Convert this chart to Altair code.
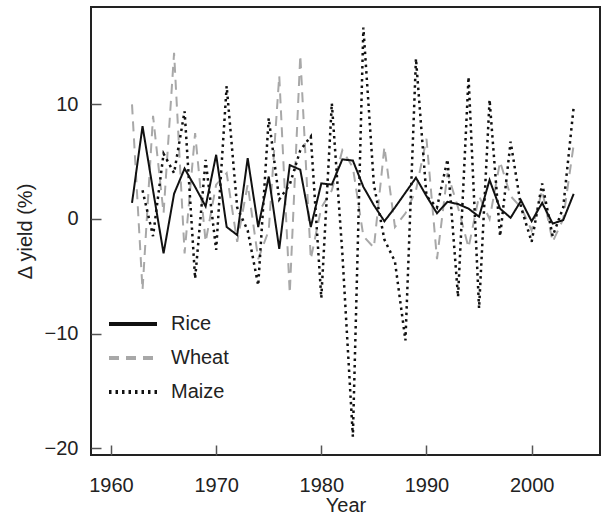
import altair as alt
import pandas as pd

years = list(range(1962, 2005))
rice = [1.4, 8.1, 2.5, -3.0, 2.2, 4.4, 2.8, 1.1, 5.6, -0.7, -1.4, 5.3, -0.7, 3.7, -2.6,
        4.7, 4.3, -0.7, 3.1, 3.0, 5.2, 5.1, 2.8, 1.2, -0.2, 1.0, 2.3, 3.6, 2.0, 0.5,
        1.5, 1.3, 0.9, 0.2, 3.4, 0.9, 0.1, 1.6, -0.2, 1.4, -0.4, -0.1, 2.2]
wheat = [10.0, -6.2, 9.0, 0.5, 14.5, -3.0, 7.5, -2.0, 3.0, 4.0, -2.0, 3.0, -3.5, -1.0, 12.5,
         -6.5, 14.3, -3.5, 1.0, 2.5, 6.0, 4.5, -1.5, -2.5, 6.3, -0.7, 0.5, 2.5, 7.0, -3.5,
         4.0, 1.0, -2.5, 2.0, 0.0, 5.0, 2.0, 1.0, -1.0, 2.5, -2.0, 0.0, 6.5]
maize = [None, 2.5, -1.5, 5.7, 4.0, 9.4, -5.2, 5.15, -2.7, 11.6, 1.0, -1.0, -5.8, 8.8, 1.7,
         3.0, 6.0, 7.2, -6.9, 10.1, -3.0, -19.0, 16.7, 3.0, -1.8, -3.7, -10.6, 14.0, 2.0, 1.0,
         5.2, -6.8, 12.4, -7.8, 10.4, -1.5, 6.75, 1.0, -2.0, 3.1, -1.5, 1.0, 9.8]

crops = ["Rice", "Wheat", "Maize"]
series = {"Rice": rice, "Wheat": wheat, "Maize": maize}
colors = ["#111111", "#a8a8a8", "#111111"]
dashes = [[1, 0], [10, 7], [2.5, 4]]
x_ticks = [1960, 1970, 1980, 1990, 2000]
y_ticks = [-20, -10, 0, 10]

rows = []
for c in crops:
    for yr, v in zip(years, series[c]):
        if v is not None:
            rows.append({"Year": yr, "value": v, "Crop": c})
df = pd.DataFrame(rows)

x_enc = alt.X("Year:Q",
              scale=alt.Scale(domain=[1958.1, 2006.5], nice=False, zero=False),
              axis=alt.Axis(values=x_ticks, format="d", title="Year", offset=-10,
                            tickSize=10, domain=False, grid=False, labelPadding=20,
                            titlePadding=0))
y_enc = alt.Y("value:Q",
              scale=alt.Scale(domain=[-20.6, 18.5], nice=False, zero=False),
              axis=alt.Axis(values=y_ticks, title="Δ yield (%)", offset=-10,
                            tickSize=10, domain=False, grid=False, labelPadding=13,
                            titlePadding=9))
color_enc = alt.Color("Crop:N", scale=alt.Scale(domain=crops, range=colors),
                      legend=alt.Legend(title=None))
dash_enc = alt.StrokeDash("Crop:N", scale=alt.Scale(domain=crops, range=dashes),
                          legend=alt.Legend(title=None))

def layer(crop, width):
    return alt.Chart(df).transform_filter(
        alt.datum.Crop == crop
    ).mark_line(strokeWidth=width).encode(
        x=x_enc, y=y_enc, color=color_enc, strokeDash=dash_enc
    )

chart = alt.layer(
    layer("Wheat", 2), layer("Maize", 2.5), layer("Rice", 2)
).properties(
    width=509, height=448,
    padding={"left": 91, "top": 7, "right": 4, "bottom": 60},
    autosize=alt.AutoSizeParams(type="none"),
    background="white",
).configure_view(
    stroke="#222222", strokeWidth=2
).configure_axis(
    labelFont="Liberation Sans", labelFontSize=20, labelColor="#222222",
    titleFont="Liberation Sans", titleFontSize=20, titleColor="#222222",
    titleFontWeight="normal", tickColor="#555555", tickWidth=1.5
).configure_legend(
    orient="none", legendX=16, legendY=306, symbolType="stroke", symbolSize=2304,
    symbolStrokeWidth=4, clipHeight=22, rowPadding=12, labelOffset=12,
    labelFont="Liberation Sans", labelFontSize=20, labelColor="#222222", padding=0
)

chart.save("out.html", embed_options={"renderer": "svg", "actions": False})
